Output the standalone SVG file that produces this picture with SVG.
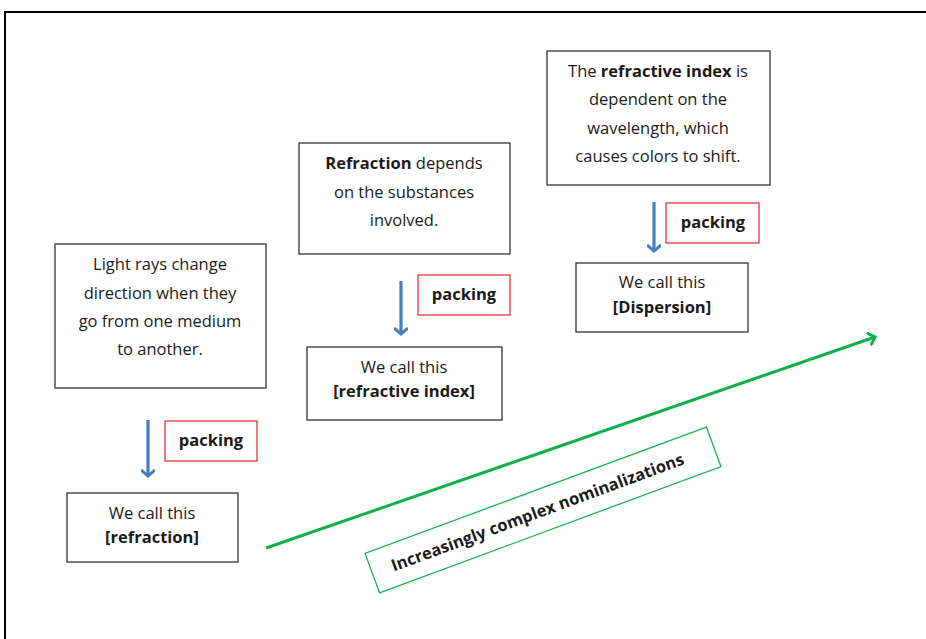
<svg xmlns="http://www.w3.org/2000/svg" width="926" height="639" viewBox="0 0 926 639">
<style>
.box{fill:#fff;stroke:#333;stroke-width:1.3}
.pk{fill:#fff;stroke:#e8262b;stroke-width:1.2}
.t{font-family:"Open Sans","Liberation Sans",sans-serif;font-size:16.5px;fill:#1a1a1a;text-anchor:middle}
.b{font-weight:bold}
.down{stroke:#4a7ebb;stroke-width:3.2;fill:none}
</style>
<defs>
<marker id="ah" markerWidth="14" markerHeight="14" refX="7" refY="7" orient="auto" markerUnits="userSpaceOnUse" viewBox="0 0 14 14"><path d="M1,0 L7,7 L1,14" fill="none" stroke="#4a7ebb" stroke-width="3"/></marker>
<marker id="gh" markerWidth="12" markerHeight="14" refX="7" refY="7" orient="auto" markerUnits="userSpaceOnUse" viewBox="0 0 12 14"><path d="M0,0 L7,7 L0,14" fill="none" stroke="#0fb04a" stroke-width="3"/></marker>
</defs>
<rect width="926" height="639" fill="#fff"/>
<path d="M5,639 V12 H926" fill="none" stroke="#000" stroke-width="2"/>
<g id="connectors">
<line class="down" x1="148" y1="420" x2="148" y2="476" marker-end="url(#ah)"/>
<line class="down" x1="401" y1="281" x2="401" y2="334" marker-end="url(#ah)"/>
<line class="down" x1="654" y1="202" x2="654" y2="251" marker-end="url(#ah)"/>
<line x1="266" y1="548" x2="875" y2="337" stroke="#0fb04a" stroke-width="3" marker-end="url(#gh)"/>
</g>
<g id="n1"><rect class="box" x="55" y="244" width="211" height="144"/>
<text class="t" x="160" y="270">Light rays change</text>
<text class="t" x="160" y="299">direction when they</text>
<text class="t" x="160" y="327">go from one medium</text>
<text class="t" x="160" y="355">to another.</text></g>
<g id="p1"><rect class="pk" x="165" y="421" width="92" height="40"/><text class="t b" x="211" y="446">packing</text></g>
<g id="n2"><rect class="box" x="67" y="493" width="171" height="69"/>
<text class="t" x="152" y="519">We call  this</text>
<text class="t b" x="152" y="543">[refraction]</text></g>
<g id="n3"><rect class="box" x="299" y="143" width="211" height="111"/>
<text class="t" x="404" y="169"><tspan class="b">Refraction</tspan> depends</text>
<text class="t" x="404" y="198">on the substances</text>
<text class="t" x="404" y="226">involved.</text></g>
<g id="p2"><rect class="pk" x="418" y="275" width="92" height="40"/><text class="t b" x="464" y="300">packing</text></g>
<g id="n4"><rect class="box" x="307" y="347" width="195" height="73"/>
<text class="t" x="404" y="373">We call this</text>
<text class="t b" x="404" y="397">[refractive index]</text></g>
<g id="n5"><rect class="box" x="547" y="51" width="223" height="134"/>
<text class="t" x="658" y="77">The <tspan class="b">refractive index</tspan> is</text>
<text class="t" x="658" y="105">dependent  on the</text>
<text class="t" x="658" y="134">wavelength, which</text>
<text class="t" x="658" y="162">causes colors to shift.</text></g>
<g id="p3"><rect class="pk" x="666" y="203" width="93" height="40"/><text class="t b" x="713" y="228">packing</text></g>
<g id="n6"><rect class="box" x="576" y="263" width="172" height="69"/>
<text class="t" x="662" y="288">We call this</text>
<text class="t b" x="662" y="313">[Dispersion]</text></g>
<g id="label" transform="translate(543,510) rotate(-20.3)">
<rect x="-182" y="-21" width="364" height="42" fill="#fff" stroke="#1fb255" stroke-width="1.3"/>
<text class="t b" x="-6" y="6">Increasingly complex nominalizations</text></g>
</svg>
